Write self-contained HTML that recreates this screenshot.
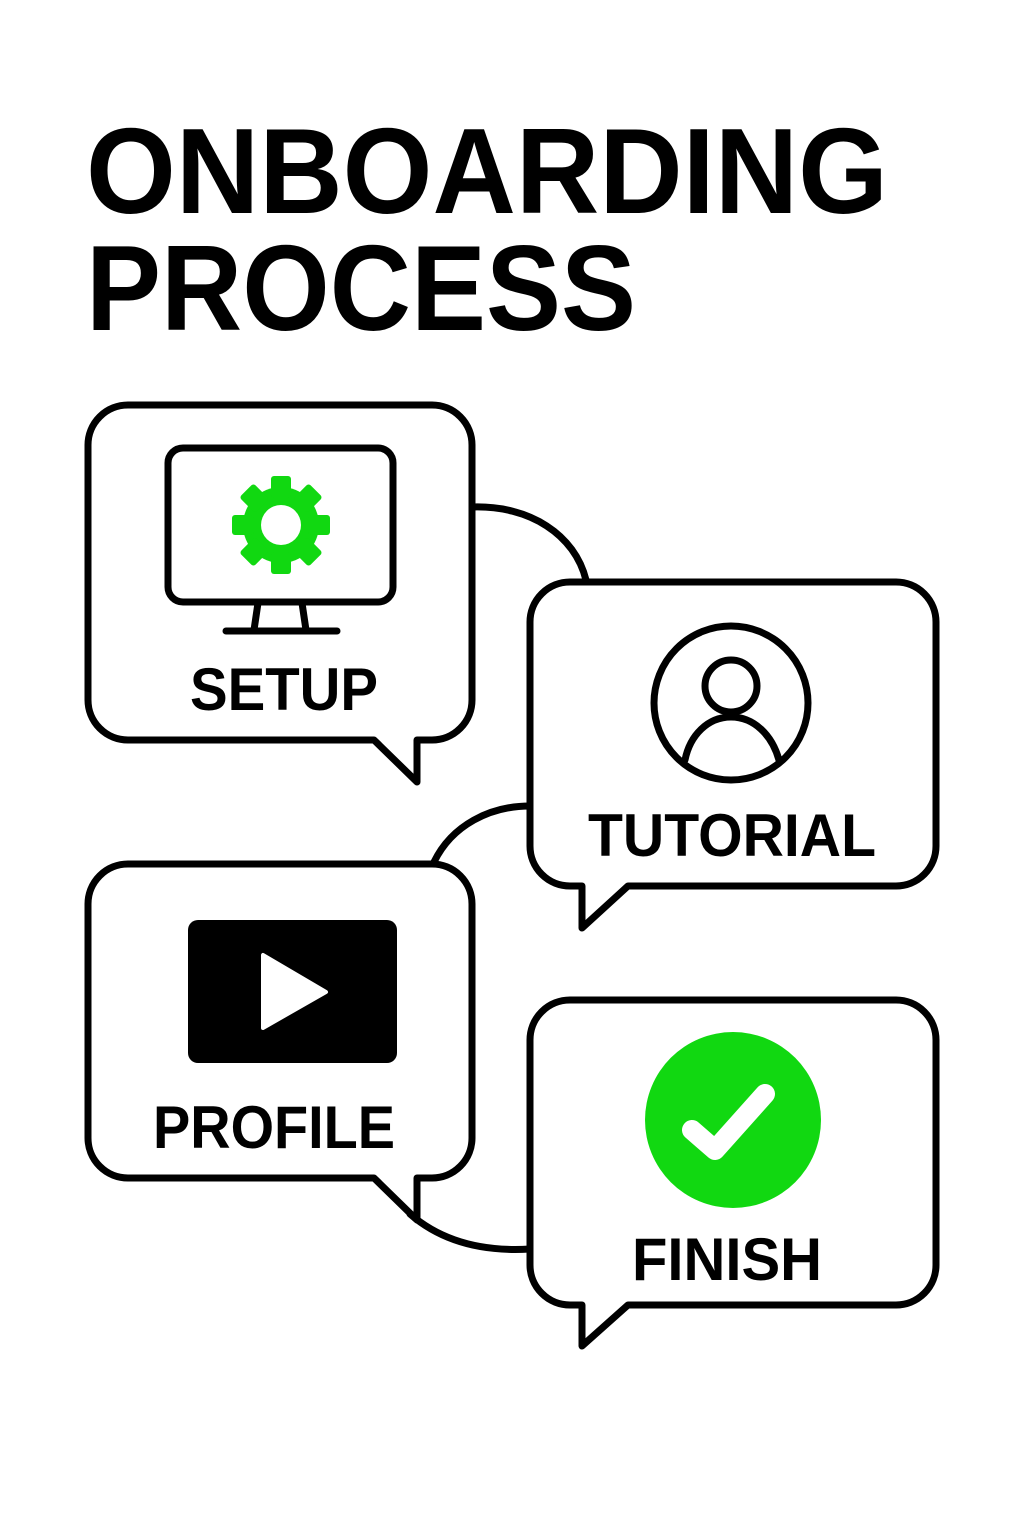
<!DOCTYPE html>
<html><head><meta charset="utf-8"><style>
html,body{margin:0;padding:0;background:#fff;}
svg{display:block;}
text{font-family:"Liberation Sans",Arial,sans-serif;font-weight:bold;fill:#000;}
</style></head><body>
<svg width="1024" height="1536" viewBox="0 0 1024 1536" xmlns="http://www.w3.org/2000/svg">
<text x="86" y="213" font-size="122" textLength="802" lengthAdjust="spacingAndGlyphs">ONBOARDING</text>
<text x="86" y="330" font-size="122" textLength="550" lengthAdjust="spacingAndGlyphs">PROCESS</text>

<g fill="none" stroke="#000" stroke-width="7" stroke-linejoin="round" stroke-linecap="round">
<!-- connectors -->
<path d="M472,507 C530,505 575,535 586,580"/>
<path d="M530,806 C490,806 452,825 434,862"/>
<path d="M410,1214 C440,1240 480,1252 530,1249"/>
<!-- box1 -->
<path d="M128,405 H432 A40,40 0 0 1 472,445 V700 A40,40 0 0 1 432,740 H417 V782 L374,740 H128 A40,40 0 0 1 88,700 V445 A40,40 0 0 1 128,405 Z" fill="#fff"/>
<!-- box2 -->
<path d="M570,582 H896 A40,40 0 0 1 936,622 V846 A40,40 0 0 1 896,886 H628 L582,928 V886 H570 A40,40 0 0 1 530,846 V622 A40,40 0 0 1 570,582 Z" fill="#fff"/>
<!-- box3 -->
<path d="M128,864 H432 A40,40 0 0 1 472,904 V1138 A40,40 0 0 1 432,1178 H417 V1220 L374,1178 H128 A40,40 0 0 1 88,1138 V904 A40,40 0 0 1 128,864 Z" fill="#fff"/>
<!-- box4 -->
<path d="M570,1000 H896 A40,40 0 0 1 936,1040 V1265 A40,40 0 0 1 896,1305 H628 L582,1346 V1305 H570 A40,40 0 0 1 530,1265 V1040 A40,40 0 0 1 570,1000 Z" fill="#fff"/>
<!-- monitor -->
<rect x="168" y="448" width="225" height="154" rx="15"/>
<path d="M258,603 L254,630 M302,603 L306,630"/>
<path d="M226,631 H337"/>
<!-- user -->
<circle cx="731" cy="703" r="77"/>
<circle cx="731" cy="686" r="26"/>
<path d="M685,760 C690,735 708,717 731,717 C754,717 772,735 779,760"/>
</g>
<!-- gear -->
<g fill="#11d811" transform="translate(281,525)">
<circle r="38"/>
<g id="t"><rect x="-10" y="-49" width="20" height="22" rx="3"/></g>
<use href="#t" transform="rotate(45)"/><use href="#t" transform="rotate(90)"/><use href="#t" transform="rotate(135)"/>
<use href="#t" transform="rotate(180)"/><use href="#t" transform="rotate(225)"/><use href="#t" transform="rotate(270)"/><use href="#t" transform="rotate(315)"/>
<circle r="20" fill="#fff"/>
</g>
<!-- video -->
<rect x="188" y="920" width="209" height="143" rx="10" fill="#000"/>
<path d="M263,955 L263,1028 L326,992 Z" fill="#fff" stroke="#fff" stroke-width="4" stroke-linejoin="round"/>
<!-- check -->
<circle cx="733" cy="1120" r="88" fill="#11d811"/>
<path d="M692,1130 L715,1150 L765,1094" fill="none" stroke="#fff" stroke-width="20" stroke-linecap="round" stroke-linejoin="round"/>

<text x="190" y="710" font-size="60" textLength="188" lengthAdjust="spacingAndGlyphs">SETUP</text>
<text x="588" y="856" font-size="60" textLength="288" lengthAdjust="spacingAndGlyphs">TUTORIAL</text>
<text x="153" y="1148" font-size="60" textLength="242" lengthAdjust="spacingAndGlyphs">PROFILE</text>
<text x="632" y="1280" font-size="60" textLength="190" lengthAdjust="spacingAndGlyphs">FINISH</text>
</svg>
</body></html>
